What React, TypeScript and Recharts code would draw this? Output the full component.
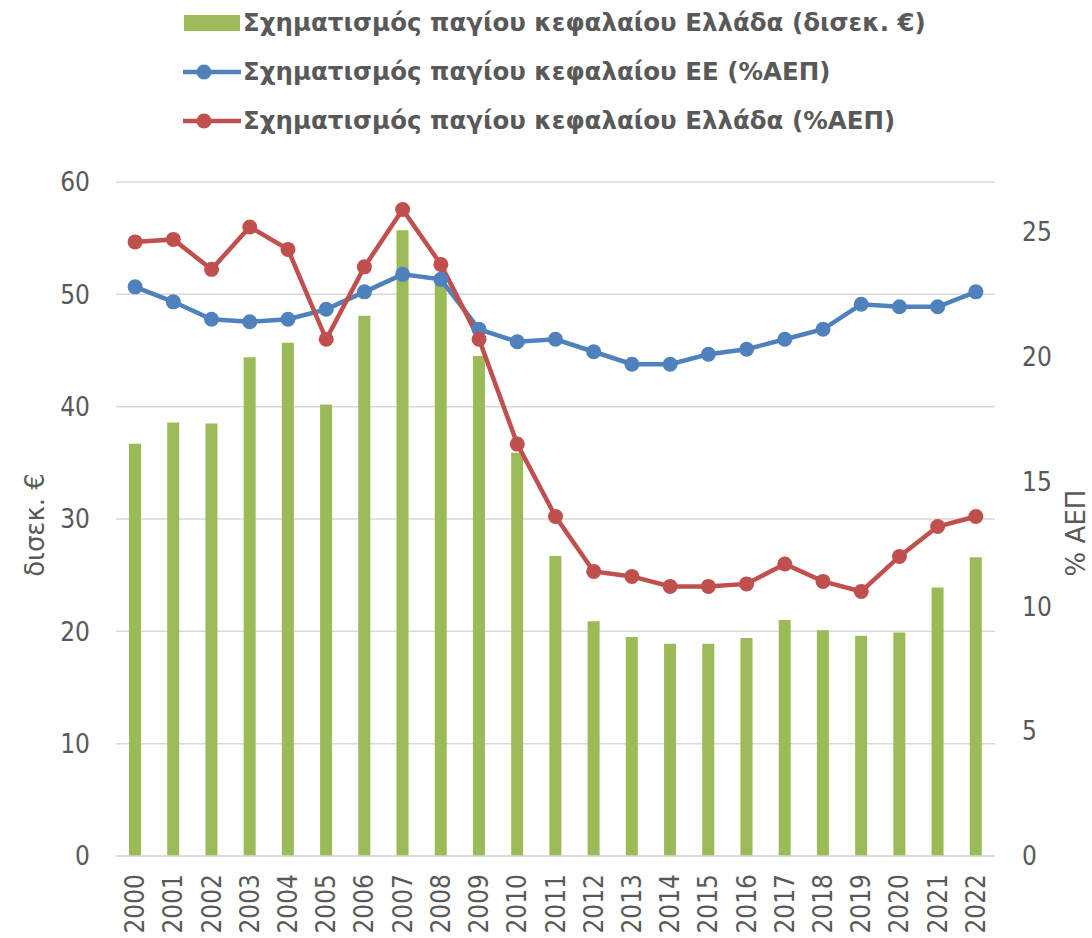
import React from 'react';
import {
  ComposedChart,
  Bar,
  Line,
  XAxis,
  YAxis,
  CartesianGrid,
  Legend,
} from 'recharts';

const years = [
  '2000', '2001', '2002', '2003', '2004', '2005', '2006', '2007', '2008', '2009', '2010', '2011',
  '2012', '2013', '2014', '2015', '2016', '2017', '2018', '2019', '2020', '2021', '2022',
];

// Σχηματισμός παγίου κεφαλαίου Ελλάδα (δισεκ. €)
const greeceBillions = [
  36.7, 38.6, 38.5, 44.4, 45.7, 40.2, 48.1, 55.7, 51.4, 44.5, 35.9, 26.7,
  20.9, 19.5, 18.9, 18.9, 19.4, 21.0, 20.1, 19.6, 19.9, 23.9, 26.6,
];

// Σχηματισμός παγίου κεφαλαίου ΕΕ (%ΑΕΠ)
const euPct = [
  22.8, 22.2, 21.5, 21.4, 21.5, 21.9, 22.6, 23.3, 23.1, 21.1, 20.6, 20.7,
  20.2, 19.7, 19.7, 20.1, 20.3, 20.7, 21.1, 22.1, 22.0, 22.0, 22.6,
];

// Σχηματισμός παγίου κεφαλαίου Ελλάδα (%ΑΕΠ)
const greecePct = [
  24.6, 24.7, 23.5, 25.2, 24.3, 20.7, 23.6, 25.9, 23.7, 20.7, 16.5, 13.6,
  11.4, 11.2, 10.8, 10.8, 10.9, 11.7, 11.0, 10.6, 12.0, 13.2, 13.6,
];

const leftTicks = [0, 10, 20, 30, 40, 50, 60];
const rightTicks = [0, 5, 10, 15, 20, 25];

const seriesNames = {
  bn: 'Σχηματισμός παγίου κεφαλαίου Ελλάδα (δισεκ. €)',
  eu: 'Σχηματισμός παγίου κεφαλαίου ΕΕ (%ΑΕΠ)',
  gr: 'Σχηματισμός παγίου κεφαλαίου Ελλάδα (%ΑΕΠ)',
};

const GREEN = '#9BBB59';
const BLUE = '#4F81BD';
const RED = '#C0504D';
const TEXT = '#595959';
const GRID = '#D9D9D9';
const FONT = '"DejaVu Sans Condensed", "DejaVu Sans", sans-serif';
const FONT_WIDE = '"DejaVu Sans", sans-serif';

const data = years.map((year, i) => ({
  year,
  bn: greeceBillions[i],
  eu: euPct[i],
  gr: greecePct[i],
}));

const XTick = (props: any) => {
  const { x, y, payload } = props;
  const ty = y + 10;
  return (
    <text
      x={x}
      y={ty}
      transform={`rotate(-90, ${x}, ${ty})`}
      textAnchor="end"
      dominantBaseline="central"
      fill={TEXT}
      fontSize={26}
      fontFamily={FONT}
    >
      {payload.value}
    </text>
  );
};

const LegendContent = () => {
  const rows = [
    { key: 'bn', color: GREEN, type: 'bar' },
    { key: 'eu', color: BLUE, type: 'line' },
    { key: 'gr', color: RED, type: 'line' },
  ];
  return (
    <div style={{ position: 'relative', width: 1092, height: 150 }}>
      {rows.map((r, i) => (
        <div
          key={r.key}
          style={{
            position: 'absolute',
            left: 183,
            top: 23 + i * 49 - 18,
            height: 36,
            display: 'flex',
            alignItems: 'center',
            whiteSpace: 'nowrap',
          }}
        >
          <svg width={58} height={36} style={{ display: 'block' }}>
            {r.type === 'bar' ? (
              <rect x={1} y={10} width={56} height={16} fill={r.color} />
            ) : (
              <g>
                <line x1={0} y1={18} x2={58} y2={18} stroke={r.color} strokeWidth={4.5} />
                <circle cx={21} cy={18} r={7.5} fill={r.color} />
              </g>
            )}
          </svg>
          <span
            style={{
              marginLeft: 2,
              fontFamily: FONT_WIDE,
              fontWeight: 'bold',
              fontSize: 24.5,
              color: TEXT,
              lineHeight: '36px',
            }}
          >
            {(seriesNames as any)[r.key]}
          </span>
        </div>
      ))}
    </div>
  );
};

const LeftLabel = (props: any) => {
  const { viewBox } = props;
  const cx = viewBox.x + 35;
  const cy = viewBox.y + viewBox.height / 2 + 6;
  return (
    <text
      x={cx}
      y={cy}
      transform={`rotate(-90, ${cx}, ${cy})`}
      textAnchor="middle"
      dominantBaseline="central"
      fill={TEXT}
      fontSize={26}
      fontFamily={FONT_WIDE}
    >
      δισεκ. €
    </text>
  );
};

const RightLabel = (props: any) => {
  const { viewBox } = props;
  const cx = viewBox.x + 81;
  const cy = viewBox.y + viewBox.height / 2 + 14;
  return (
    <text
      x={cx}
      y={cy}
      transform={`rotate(-90, ${cx}, ${cy})`}
      textAnchor="middle"
      dominantBaseline="central"
      fill={TEXT}
      fontSize={26}
      fontFamily={FONT_WIDE}
    >
      % ΑΕΠ
    </text>
  );
};

export default function App() {
  return (
    <div style={{ position: 'absolute', left: 0, top: 0, width: 1092, height: 938, background: '#fff' }}>
      <ComposedChart
        width={1092}
        height={938}
        data={data}
        margin={{ top: 182, right: 0, bottom: 0, left: 0 }}
        barCategoryGap={0}
      >
        <CartesianGrid yAxisId="left" vertical={false} stroke={GRID} strokeWidth={1.5} />
        <XAxis
          dataKey="year"
          height={82}
          interval={0}
          tickLine={false}
          axisLine={{ stroke: GRID, strokeWidth: 1.5 }}
          tick={<XTick />}
        />
        <YAxis
          yAxisId="left"
          width={116}
          domain={[0, 60]}
          ticks={leftTicks}
          tickLine={false}
          axisLine={false}
          tickMargin={20}
          tick={{ fill: TEXT, fontSize: 26, fontFamily: FONT }}
          label={<LeftLabel />}
        />
        <YAxis
          yAxisId="right"
          orientation="right"
          width={97}
          domain={[0, 27]}
          ticks={rightTicks}
          tickLine={false}
          axisLine={false}
          tickMargin={21}
          tick={{ fill: TEXT, fontSize: 26, fontFamily: FONT, textAnchor: 'start' }}
          label={<RightLabel />}
        />
        <Legend
          layout="vertical"
          verticalAlign="middle"
          align="center"
          wrapperStyle={{ top: 0, left: 0, width: 1092 }}
          content={<LegendContent />}
        />
        <Bar
          yAxisId="left"
          dataKey="bn"
          name={seriesNames.bn}
          fill={GREEN}
          barSize={12}
          isAnimationActive={false}
        />
        <Line
          yAxisId="right"
          dataKey="eu"
          name={seriesNames.eu}
          stroke={BLUE}
          strokeWidth={4.5}
          dot={{ r: 7.5, fill: BLUE, stroke: 'none' }}
          activeDot={false}
          isAnimationActive={false}
        />
        <Line
          yAxisId="right"
          dataKey="gr"
          name={seriesNames.gr}
          stroke={RED}
          strokeWidth={4.5}
          dot={{ r: 7.5, fill: RED, stroke: 'none' }}
          activeDot={false}
          isAnimationActive={false}
        />
      </ComposedChart>
    </div>
  );
}
